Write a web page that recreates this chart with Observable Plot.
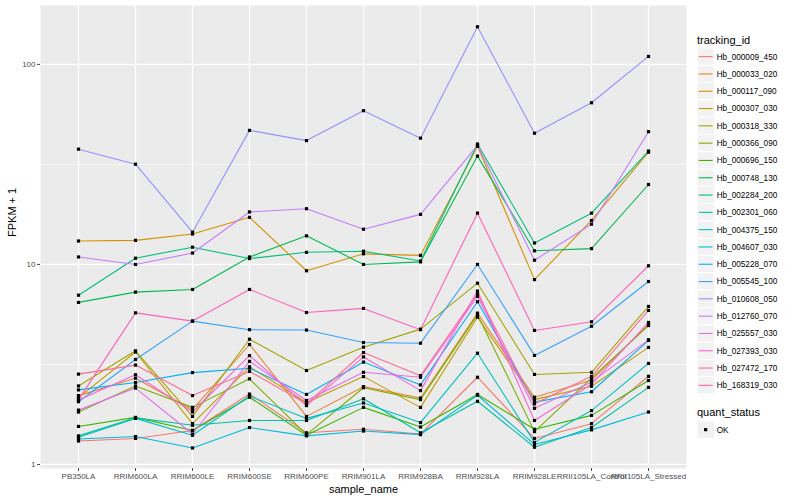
<!DOCTYPE html>
<html>
<head>
<meta charset="utf-8">
<script src="https://cdn.jsdelivr.net/npm/d3@7"></script>
<script src="https://cdn.jsdelivr.net/npm/@observablehq/plot@0.6"></script>
<style>
  html, body { margin: 0; padding: 0; background: white; }
  #wrap { position: relative; width: 800px; height: 500px; font-family: "Liberation Sans", Arial, sans-serif; }
  #chart { position: absolute; left: 0; top: 0; }
  #legend { position: absolute; left: 690px; top: 0; }
</style>
</head>
<body>
<div id="wrap"><div id="chart"></div><div id="legend"></div></div>
<script>
const samples = ["PB350LA", "RRIM600LA", "RRIM600LE", "RRIM600SE", "RRIM600PE", "RRIM901LA",
  "RRIM928BA", "RRIM928LA", "RRIM928LE", "RRII105LA_Control", "RRII105LA_Stressed"];

const trackingIds = ["Hb_000009_450", "Hb_000033_020", "Hb_000117_090", "Hb_000307_030", "Hb_000318_330",
  "Hb_000366_090", "Hb_000696_150", "Hb_000748_130", "Hb_002284_200", "Hb_002301_060", "Hb_004375_150",
  "Hb_004607_030", "Hb_005228_070", "Hb_005545_100", "Hb_010608_050", "Hb_012760_070", "Hb_025557_030",
  "Hb_027393_030", "Hb_027472_170", "Hb_168319_030"];

const colors = ["#F8766D", "#EA8331", "#D89000", "#C09B00", "#A3A500", "#7CAE00", "#39B600", "#00BB4E",
  "#00BF7D", "#00C1A3", "#00BFC4", "#00BAE0", "#00B0F6", "#35A2FF", "#9590FF", "#C77CFF", "#E76BF3",
  "#FA62DB", "#FF62BC", "#FF6C91"];

// FPKM + 1 per tracking_id, in sample order
const hb_000009_450 = [1.31, 1.35, 1.48, 2.25, 1.44, 1.50, 1.42, 2.73, 1.35, 1.60, 2.76];
const hb_000033_020 = [2.21, 2.70, 1.88, 3.98, 1.74, 2.45, 2.15, 5.71, 2.17, 2.64, 5.01];
const hb_000117_090 = [13.1, 13.2, 14.2, 17.2, 9.3, 11.3, 11.1, 39.0, 8.4, 16.6, 36.4];
const hb_000307_030 = [2.16, 3.65, 1.60, 3.08, 2.04, 2.75, 1.93, 5.45, 2.11, 2.46, 3.85];
const hb_000318_330 = [2.47, 3.70, 1.74, 4.23, 2.95, 3.86, 4.75, 8.06, 2.82, 2.89, 6.17];
const hb_000366_090 = [1.83, 2.47, 1.93, 2.68, 1.41, 2.42, 2.11, 5.61, 1.46, 2.70, 4.95];
const hb_000696_150 = [1.55, 1.72, 1.48, 2.17, 1.40, 1.93, 1.54, 2.24, 1.50, 1.76, 2.63];
const hb_000748_130 = [6.46, 7.27, 7.5, 10.9, 13.9, 10.0, 10.3, 34.8, 11.7, 12.0, 25.1];
const hb_002284_200 = [7.02, 10.75, 12.2, 10.7, 11.5, 11.65, 10.4, 40.0, 12.8, 18.05, 36.9];
const hb_002301_060 = [1.39, 1.71, 1.57, 1.66, 1.66, 2.13, 1.44, 2.07, 1.22, 1.53, 2.43];
const hb_004375_150 = [1.37, 1.70, 1.40, 2.20, 1.70, 2.03, 1.62, 3.60, 1.29, 1.86, 3.20];
const hb_004607_030 = [1.34, 1.38, 1.21, 1.53, 1.39, 1.47, 1.41, 2.22, 1.26, 1.49, 1.83];
const hb_005228_070 = [2.36, 2.57, 2.88, 3.03, 2.24, 3.25, 2.50, 6.51, 2.05, 2.31, 4.17];
const hb_005545_100 = [2.06, 3.35, 5.21, 4.72, 4.70, 4.07, 4.04, 10.0, 3.51, 4.91, 8.22];
const hb_010608_050 = [37.7, 31.7, 14.5, 46.8, 41.6, 58.7, 42.8, 154.3, 45.3, 64.3, 109.6];
const hb_012760_070 = [10.9, 10.0, 11.4, 18.3, 19.0, 15.0, 17.8, 39.4, 10.5, 15.9, 46.1];
const hb_025557_030 = [1.87, 2.41, 1.42, 3.28, 2.09, 2.89, 2.73, 6.92, 1.91, 2.58, 4.20];
const hb_027393_030 = [2.10, 2.81, 1.83, 3.50, 1.97, 3.45, 2.34, 7.36, 1.66, 2.52, 5.13];
const hb_027472_170 = [2.11, 5.73, 5.21, 7.5, 5.75, 6.03, 4.72, 18.05, 4.68, 5.17, 9.85];
const hb_168319_030 = [2.83, 3.14, 2.21, 2.92, 2.01, 3.63, 2.78, 7.14, 2.01, 2.76, 5.89];

const yTicks = [1, 10, 100];
const quantStatus = ["OK"];

const seriesValues = [hb_000009_450, hb_000033_020, hb_000117_090, hb_000307_030, hb_000318_330,
  hb_000366_090, hb_000696_150, hb_000748_130, hb_002284_200, hb_002301_060, hb_004375_150,
  hb_004607_030, hb_005228_070, hb_005545_100, hb_010608_050, hb_012760_070, hb_025557_030,
  hb_027393_030, hb_027472_170, hb_168319_030];

const rows = trackingIds.flatMap((id, i) =>
  samples.map((s, j) => ({tracking_id: id, sample_name: s, fpkm: seriesValues[i][j], quant_status: "OK"})));

const chart = Plot.plot({
  width: 690,
  height: 500,
  marginLeft: 40,
  marginRight: 4,
  marginTop: 5,
  marginBottom: 32,
  style: {fontFamily: "'Liberation Sans', Arial, sans-serif", fontSize: "8px", background: "white", overflow: "visible"},
  x: {type: "point", domain: samples, padding: 0.6},
  y: {type: "log", domain: [0.955, 197]},
  color: {domain: trackingIds, range: colors},
  marks: [
    Plot.frame({fill: "#EBEBEB", stroke: null}),
    Plot.ruleY([Math.sqrt(10), Math.sqrt(1000)], {stroke: "white", strokeWidth: 0.6}),
    Plot.ruleY(yTicks, {stroke: "white", strokeWidth: 1.25}),
    Plot.ruleX(samples, {stroke: "white", strokeWidth: 1.25}),
    Plot.line(rows, {x: "sample_name", y: "fpkm", z: "tracking_id", stroke: "tracking_id", strokeWidth: 1.1}),
    Plot.dot(rows, {x: "sample_name", y: "fpkm", symbol: "square", r: 1.8, fill: "black", stroke: null}),
    Plot.axisX({tickSize: 3, tickPadding: 2, label: null, color: "#4D4D4D", fontSize: 8}),
    Plot.axisY({ticks: yTicks, tickFormat: d => String(d), tickSize: 3, tickPadding: 2, label: null, color: "#4D4D4D", fontSize: 8}),
    Plot.text(["sample_name"], {frameAnchor: "bottom", dy: 21, fontSize: 11, fill: "black", lineAnchor: "middle"}),
    Plot.text(["FPKM + 1"], {frameAnchor: "left", dx: -28, rotate: -90, fontSize: 11, fill: "black", lineAnchor: "middle"})
  ]
});
document.getElementById("chart").appendChild(chart);

// Legend
const lg = d3.select("#legend").append("svg").attr("width", 110).attr("height", 500)
  .style("font-family", "'Liberation Sans', Arial, sans-serif");
lg.append("text").attr("x", 7).attr("y", 44).attr("font-size", 11).text("tracking_id");
const keyH = 17.3, key0 = 48;
trackingIds.forEach((id, i) => {
  const y = key0 + i * keyH;
  lg.append("rect").attr("x", 7).attr("y", y).attr("width", 17.3).attr("height", keyH)
    .attr("fill", "#F2F2F2").attr("stroke", "white").attr("stroke-width", 1);
  lg.append("line").attr("x1", 8.7).attr("x2", 22.6).attr("y1", y + keyH / 2).attr("y2", y + keyH / 2)
    .attr("stroke", colors[i]).attr("stroke-width", 1.1);
  lg.append("text").attr("x", 26.7).attr("y", y + keyH / 2).attr("dy", "0.35em")
    .attr("font-size", 8.2).attr("fill", "black").text(id);
});
lg.append("text").attr("x", 7).attr("y", 416).attr("font-size", 11).text("quant_status");
quantStatus.forEach((s, i) => {
  const y = 421 + i * keyH;
  lg.append("rect").attr("x", 7).attr("y", y).attr("width", 17.3).attr("height", keyH)
    .attr("fill", "#F2F2F2").attr("stroke", "white");
  lg.append("rect").attr("x", 7 + 17.3 / 2 - 1.6).attr("y", y + keyH / 2 - 1.6).attr("width", 3.2).attr("height", 3.2).attr("fill", "black");
  lg.append("text").attr("x", 26.7).attr("y", y + keyH / 2).attr("dy", "0.35em")
    .attr("font-size", 8.2).attr("fill", "black").text(s);
});
</script>
</body>
</html>
